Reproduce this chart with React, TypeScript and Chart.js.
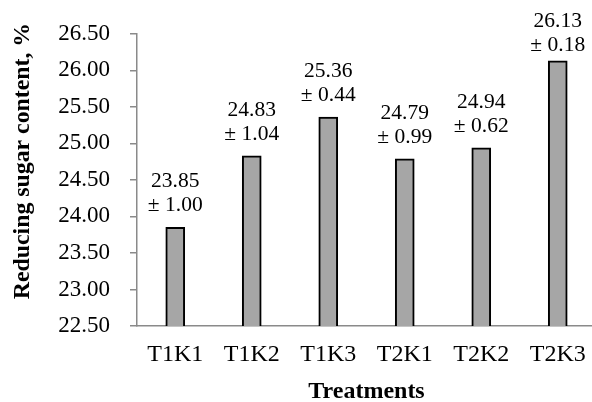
import React, { useEffect, useRef } from "react";
import { Chart, registerables } from "chart.js";

Chart.register(...registerables);

const categories = ["T1K1", "T1K2", "T1K3", "T2K1", "T2K2", "T2K3"];
const means = [23.85, 24.83, 25.36, 24.79, 24.94, 26.13];
const sds = [1.0, 1.04, 0.44, 0.99, 0.62, 0.18];
const yMin = 22.5;
const yMax = 26.5;
const yStep = 0.5;
const xTitle = "Treatments";
const yTitle = "Reducing sugar content, %";

const SERIF = "'Liberation Serif', 'Times New Roman', serif";
const AXIS_COLOR = "#8a8a8a";

const labelPlugin = {
  id: "meanSdLabels",
  afterDatasetsDraw(chart: any) {
    const ctx = chart.ctx;
    const meta = chart.getDatasetMeta(0);
    ctx.save();
    ctx.font = `21.5px ${SERIF}`;
    ctx.fillStyle = "#000";
    ctx.textAlign = "center";
    ctx.textBaseline = "alphabetic";
    meta.data.forEach((bar: any, i: number) => {
      let line2 = bar.y - 16;
      let line1 = line2 - 24;
      const minTop = 27;
      if (line1 < minTop) {
        const d = minTop - line1;
        line1 += d;
        line2 += d;
      }
      ctx.fillText(means[i].toFixed(2), bar.x, line1);
      ctx.fillText("\u00B1 " + sds[i].toFixed(2), bar.x, line2);
    });
    ctx.restore();
  },
};

const yTitlePlugin = {
  id: "yTitle",
  afterDraw(chart: any) {
    const ctx = chart.ctx;
    ctx.save();
    ctx.font = `bold 23.8px ${SERIF}`;
    ctx.fillStyle = "#000";
    ctx.textAlign = "center";
    ctx.textBaseline = "middle";
    ctx.translate(23, 161);
    ctx.rotate(-Math.PI / 2);
    ctx.fillText(yTitle, 0, 0);
    ctx.restore();
  },
};

export default function App() {
  const ref = useRef<HTMLCanvasElement | null>(null);
  useEffect(() => {
    if (!ref.current) return;
    const chart = new Chart(ref.current, {
      type: "bar",
      data: {
        labels: categories,
        datasets: [
          {
            data: means,
            backgroundColor: "#a6a6a6",
            borderColor: "#000000",
            borderWidth: 2,
            barThickness: 19,
          },
        ],
      },
      options: {
        animation: false,
        responsive: true,
        maintainAspectRatio: false,
        layout: { padding: { top: 32, right: 3, left: 0, bottom: 0 } },
        plugins: {
          legend: { display: false },
          tooltip: { enabled: false },
        },
        scales: {
          x: {
            grid: { display: true, drawOnChartArea: false, drawTicks: false },
            border: { display: true, color: AXIS_COLOR, width: 1.5 },
            ticks: {
              color: "#000",
              font: { family: SERIF, size: 24 },
              padding: 14,
              maxRotation: 0,
            },
            title: {
              display: true,
              text: xTitle,
              color: "#000",
              font: { family: SERIF, size: 24, weight: "bold" },
              padding: { top: 0, bottom: -4 },
            },
            afterFit(scale: any) {
              scale.height = 76;
            },
          },
          y: {
            min: yMin,
            max: yMax,
            grid: {
              display: true,
              drawOnChartArea: false,
              drawTicks: true,
              tickLength: 7,
              color: AXIS_COLOR,
              lineWidth: 1.5,
            },
            border: { display: true, color: AXIS_COLOR, width: 1.5 },
            ticks: {
              stepSize: yStep,
              color: "#000",
              font: { family: SERIF, size: 23 },
              padding: 20,
              callback: (v: any) => Number(v).toFixed(2),
            },
            afterFit(scale: any) {
              scale.width = 137;
            },
          },
        },
      },
      plugins: [labelPlugin, yTitlePlugin],
    });
    return () => chart.destroy();
  }, []);
  return (
    <div
      style={{
        position: "absolute",
        left: 0,
        top: 0,
        width: 592,
        height: 402,
        overflow: "hidden",
        background: "#fff",
      }}
    >
      <div style={{ position: "relative", width: 600, height: 402 }}>
        <canvas ref={ref} />
      </div>
    </div>
  );
}
